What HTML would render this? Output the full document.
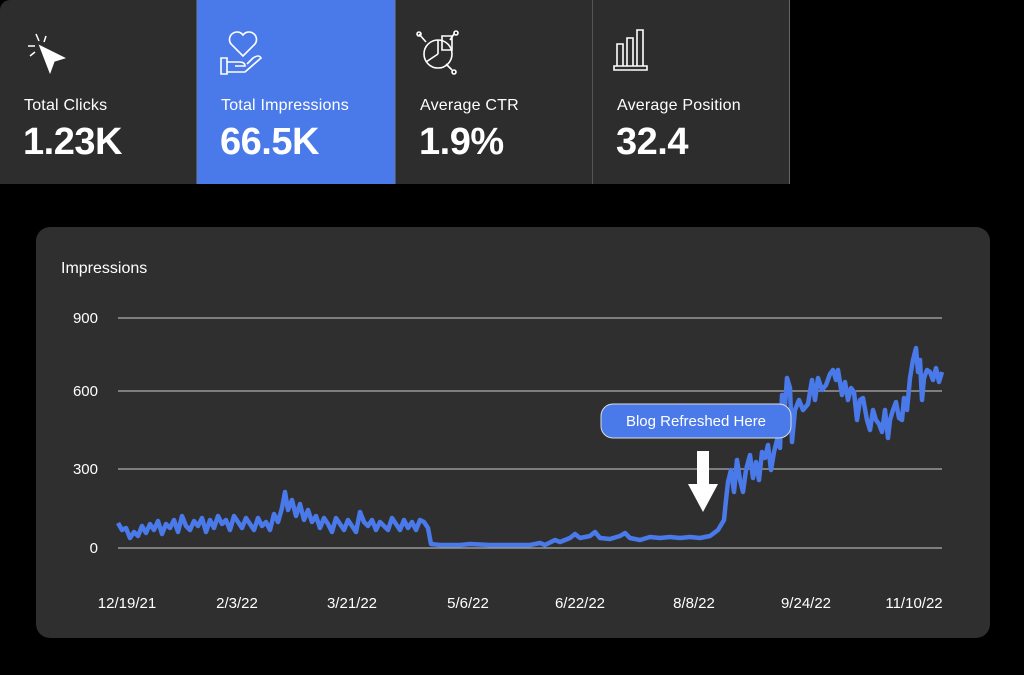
<!DOCTYPE html>
<html><head><meta charset="utf-8"><style>
body{margin:0;width:1024px;height:675px;background:#000;overflow:hidden;font-family:"Liberation Sans",sans-serif;position:relative}
.top{position:absolute;left:0;top:0;width:790px;height:184px;background:#2d2d2d;border-radius:10px 0 0 0}
.card{position:absolute;top:0;height:184px;width:197px;border-right:1px solid #555;box-sizing:border-box;color:#fff}
.card .l{position:absolute;left:24px;top:97px;font-size:16px;letter-spacing:0.2px}
.card .v{position:absolute;left:23px;top:121px;font-size:38px;font-weight:bold;letter-spacing:-0.5px}
.panel{position:absolute;left:36px;top:227px;width:954px;height:411px;background:#2f2f2f;border-radius:14px}
</style></head><body>
<div class="top">
<div class="card" style="left:0"><svg style="position:absolute;left:26px;top:32px" width="46" height="44" fill="none" stroke="#fff" stroke-width="1.5"><path d="M14 14 L38 26 L28 29 L24 40 Z" fill="#fff"/><path d="M10 2 L13 9 M2 14 H9 M4 24 L9 20 M20 4 L18 10"/></svg><div class="l">Total Clicks</div><div class="v">1.23K</div></div>
<div class="card" style="left:197px;width:199px;background:#4a7aea"><svg style="position:absolute;left:22px;top:26px" width="50" height="52" fill="none" stroke="#fff" stroke-width="1.6"><path d="M24 30 L12 18 A7 7 0 0 1 24 9 A7 7 0 0 1 36 18 Z"/><path d="M2 32 H8 V48 H2 Z M8 36 H20 Q26 36 26 40 H16 M8 46 H26 L42 32 Q40 28 34 32 L28 38"/></svg><div class="l">Total Impressions</div><div class="v">66.5K</div></div>
<div class="card" style="left:396px"><svg style="position:absolute;left:20px;top:30px" width="50" height="48" fill="none" stroke="#fff" stroke-width="1.6"><circle cx="22" cy="24" r="14"/><path d="M22 24 L22 10 M22 24 L10 32 M26 6 H36 V20 H26 Z M3 4 L10 12 M38 4 L34 10 M36 40 L30 34"/><circle cx="3" cy="4" r="2"/><circle cx="40" cy="3" r="2"/><circle cx="38" cy="42" r="2"/></svg><div class="l">Average CTR</div><div class="v">1.9%</div></div>
<div class="card" style="left:593px;border-right:1px solid #666"><svg style="position:absolute;left:20px;top:28px" width="44" height="44" fill="none" stroke="#fff" stroke-width="1.6"><path d="M4 16 H10 V38 H4 Z M14 10 H20 V38 H14 Z M24 2 H30 V38 H24 Z M1 38 H34 V42 H1 Z"/></svg><div class="l">Average Position</div><div class="v">32.4</div></div>
</div>
<div class="panel"></div>
<svg style="position:absolute;left:0;top:0" width="1024" height="675">
<g stroke="#ccc" stroke-width="1"><line x1="118" y1="318" x2="942" y2="318"/><line x1="118" y1="391" x2="942" y2="391"/><line x1="118" y1="469" x2="942" y2="469"/><line x1="118" y1="548" x2="942" y2="548"/></g>
<g fill="#fff" font-size="15" font-family="Liberation Sans, sans-serif">
<text x="61" y="273" font-size="16">Impressions</text>
<text x="98" y="323" text-anchor="end">900</text><text x="98" y="396" text-anchor="end">600</text><text x="98" y="474" text-anchor="end">300</text><text x="98" y="553" text-anchor="end">0</text>
<g text-anchor="middle"><text x="127" y="608">12/19/21</text><text x="237" y="608">2/3/22</text><text x="352" y="608">3/21/22</text><text x="468" y="608">5/6/22</text><text x="580" y="608">6/22/22</text><text x="694" y="608">8/8/22</text><text x="806" y="608">9/24/22</text><text x="914" y="608">11/10/22</text></g>
</g>
<polyline fill="none" stroke="#4a7aea" stroke-width="4.5" stroke-linejoin="round" points="118,523 122,530 126,528 130,538 134,532 138,536 142,526 146,533 150,524 154,530 158,521 162,534 166,524 170,528 174,520 178,532 182,516 186,526 190,530 194,521 198,526 202,518 206,532 210,520 214,528 218,516 222,524 226,520 230,530 234,516 238,522 242,528 246,518 250,524 254,530 258,518 262,526 266,522 270,530 274,514 278,522 282,508 285,492 288,510 292,500 296,516 300,504 304,520 308,510 312,522 316,516 320,528 324,518 328,524 332,532 336,518 340,524 344,530 348,520 352,526 356,532 360,512 364,522 368,526 372,520 376,530 380,522 384,526 388,530 392,518 396,524 400,530 404,520 408,528 412,522 416,530 420,520 424,522 428,528 431,544 440,545 460,545 470,544 490,545 510,545 530,545 540,543 545,545 555,540 560,542 570,538 575,534 580,538 590,536 595,532 600,538 610,539 620,536 625,533 630,538 640,540 650,537 660,538 670,537 680,538 690,537 700,538 710,536 718,530 724,520 726,500 728,482 731,470 734,492 737,460 740,480 743,492 746,470 750,455 753,478 756,462 759,480 762,452 765,458 768,445 771,470 774,452 777,440 780,448 782,395 784,420 787,378 790,388 792,442 795,410 799,400 803,410 808,404 812,380 815,400 818,378 822,390 826,385 830,374 833,370 836,380 838,370 842,395 845,382 848,400 851,388 854,392 857,420 860,400 863,398 867,420 870,430 873,410 876,420 879,424 882,432 885,410 888,438 890,420 893,410 896,402 899,418 902,420 904,398 907,410 910,378 913,360 916,348 918,372 920,360 922,400 924,378 927,370 930,372 933,380 936,368 939,382 942,372"/>
<rect x="601" y="404" width="190" height="34" rx="12" fill="#4a7aea" stroke="#ddd" stroke-width="1"/>
<text x="696" y="426" fill="#fff" font-size="15" text-anchor="middle" font-family="Liberation Sans, sans-serif">Blog Refreshed Here</text>
<path d="M697 451 H709 V484 H718 L703 512 L688 484 H697 Z" fill="#fff"/>
</svg>
</body></html>
